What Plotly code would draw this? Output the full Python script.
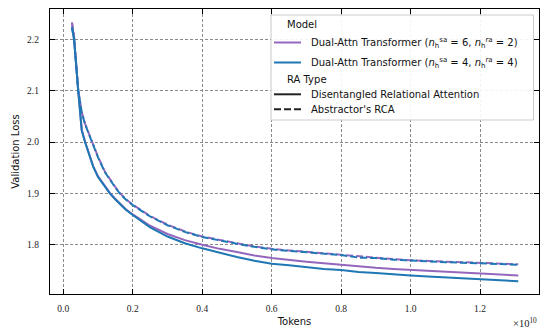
import plotly.graph_objects as go

# Tokens in units of 1e10
tokens_e10 = [0.025, 0.031, 0.043, 0.053, 0.0625, 0.075, 0.086, 0.1, 0.12, 0.134, 0.15, 0.165,
              0.18, 0.2, 0.25, 0.3, 0.35, 0.4, 0.45, 0.5, 0.55, 0.6, 0.65, 0.7, 0.75, 0.8,
              0.85, 0.9, 0.95, 1.0, 1.05, 1.1, 1.15, 1.2, 1.25, 1.31]

# Dual-Attn (sa=6, ra=2), Disentangled RA (solid, purple)
loss_62_dra = [2.232, 2.201, 2.100, 2.024, 2.001, 1.973, 1.953, 1.933, 1.913, 1.901, 1.889, 1.878,
               1.869, 1.859, 1.837, 1.821, 1.809, 1.800, 1.792, 1.786, 1.779, 1.774, 1.770, 1.767,
               1.764, 1.761, 1.757, 1.755, 1.753, 1.751, 1.749, 1.747, 1.745, 1.743, 1.742, 1.740]
# Dual-Attn (sa=4, ra=4), Disentangled RA (solid, blue)
loss_44_dra = [2.222, 2.199, 2.099, 2.023, 2.000, 1.972, 1.952, 1.932, 1.912, 1.900, 1.888, 1.877,
               1.868, 1.858, 1.834, 1.816, 1.803, 1.793, 1.784, 1.776, 1.769, 1.763, 1.760, 1.756,
               1.753, 1.751, 1.747, 1.745, 1.742, 1.740, 1.738, 1.736, 1.735, 1.733, 1.731, 1.729]
# Dual-Attn (sa=6, ra=2), Abstractor's RCA (dashed, purple)
loss_62_rca = [2.233, 2.206, 2.101, 2.059, 2.036, 2.013, 1.995, 1.971, 1.942, 1.927, 1.912, 1.899,
               1.889, 1.878, 1.856, 1.839, 1.826, 1.816, 1.809, 1.803, 1.797, 1.792, 1.789, 1.786,
               1.783, 1.781, 1.777, 1.775, 1.772, 1.770, 1.768, 1.767, 1.766, 1.765, 1.763, 1.762]
# Dual-Attn (sa=4, ra=4), Abstractor's RCA (dashed, blue)
loss_44_rca = [2.224, 2.203, 2.100, 2.058, 2.035, 2.012, 1.994, 1.970, 1.941, 1.926, 1.911, 1.898,
               1.888, 1.877, 1.855, 1.838, 1.825, 1.815, 1.808, 1.802, 1.796, 1.791, 1.788, 1.785,
               1.782, 1.780, 1.775, 1.774, 1.771, 1.769, 1.767, 1.766, 1.765, 1.764, 1.762, 1.761]

x_ticks = [0.0, 0.2, 0.4, 0.6, 0.8, 1.0, 1.2]
y_ticks = [1.8, 1.9, 2.0, 2.1, 2.2]

PURPLE = "#9467bd"
BLUE = "#1f77b4"
DASH = "7px,3px"
LW = 2

label_62 = "Dual-Attn Transformer (<i>n</i><sub>h</sub><sup>sa</sup> = 6, <i>n</i><sub>h</sub><sup>ra</sup> = 2)"
label_44 = "Dual-Attn Transformer (<i>n</i><sub>h</sub><sup>sa</sup> = 4, <i>n</i><sub>h</sub><sup>ra</sup> = 4)"

fig = go.Figure()

series = [
    (loss_62_dra, PURPLE, "solid"),
    (loss_62_rca, PURPLE, DASH),
    (loss_44_dra, BLUE, "solid"),
    (loss_44_rca, BLUE, DASH),
]
for ys, col, dash in series:
    fig.add_trace(go.Scatter(x=tokens_e10, y=ys, mode="lines", showlegend=False,
                             line=dict(color=col, width=LW, dash=dash)))

axis_common = dict(
    showline=True, linecolor="black", linewidth=1.3, mirror="ticks",
    ticks="inside", ticklen=5, tickwidth=1.2, tickcolor="black",
    showgrid=True, gridcolor="#8a8a8a", gridwidth=0.8, griddash="3px,2px",
    zeroline=False,
    tickfont=dict(family="Liberation Serif", size=9.5, color="#222"),
)

fig.update_xaxes(range=[-0.0383, 1.3697], tickvals=x_ticks,
                 ticktext=[f"{v:.1f}" for v in x_ticks],
                 title=dict(text="Tokens", font=dict(family="DejaVu Sans", size=10, color="#111"), standoff=5),
                 ticklabelstandoff=5, **axis_common)
fig.update_yaxes(range=[1.7041, 2.259], tickvals=y_ticks,
                 ticktext=[f"{v:.1f}" for v in y_ticks],
                 title=dict(text="Validation Loss", font=dict(family="DejaVu Sans", size=10, color="#111"), standoff=5),
                 ticklabelstandoff=8, **axis_common)

fig.add_annotation(x=1.0, y=0, xref="paper", yref="paper", xanchor="right", yanchor="top",
                   yshift=-20, text="×10<sup>10</sup>", showarrow=False,
                   font=dict(family="Liberation Serif", size=10.5, color="#222"))

# ---- manual legend (pixel positions converted to paper coords) ----
PX0, PW, PY1, PH = 50, 489, 294, 285
def px(v):
    return (v - PX0) / PW
def py(v):
    return (PY1 - v) / PH

fig.add_shape(type="rect", xref="paper", yref="paper", layer="above",
              x0=px(271), x1=px(533.5), y0=py(120), y1=py(15),
              line=dict(color="#cccccc", width=1), fillcolor="rgba(255,255,255,0.9)")

legend_font = dict(family="DejaVu Sans", size=10, color="#111")
legend_rows = [
    ("Model", None, None, 24, 285),
    (label_62, PURPLE, "solid", 42.5, 309),
    (label_44, BLUE, "solid", 62.5, 309),
    ("RA Type", None, None, 79, 285),
    ("Disentangled Relational Attention", "#222222", "solid", 94.3, 309),
    ("Abstractor's RCA", "#222222", DASH, 109.3, 309),
]
for text, col, dash, yrow, xtext in legend_rows:
    if col is not None:
        fig.add_shape(type="line", xref="paper", yref="paper", layer="above",
                      x0=px(274), x1=px(301), y0=py(yrow), y1=py(yrow),
                      line=dict(color=col, width=LW, dash=dash))
    fig.add_annotation(x=px(xtext), y=py(yrow), xref="paper", yref="paper",
                       xanchor="left", yanchor="middle", text=text, showarrow=False,
                       font=legend_font)

fig.update_layout(
    width=540, height=329,
    margin=dict(l=50, r=1, t=9, b=35),
    paper_bgcolor="white", plot_bgcolor="white",
    showlegend=False,
)

fig.write_html("out.html", config={"displayModeBar": False},
               post_script="document.body.style.margin='0';document.body.style.overflow='hidden';")
